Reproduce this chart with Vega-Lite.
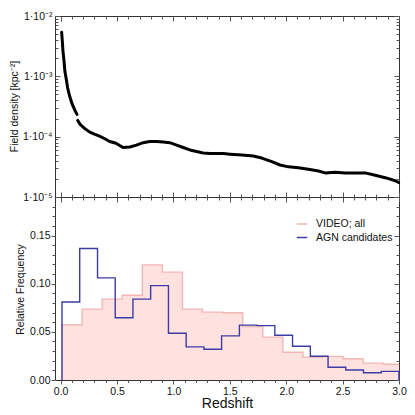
{
  "$schema": "https://vega.github.io/schema/vega-lite/v6.json",
  "width": 344,
  "height": 364,
  "autosize": {"type": "none"},
  "padding": {"left": 55, "top": 16, "right": 16, "bottom": 35},
  "background": "white",
  "resolve": {"scale": {"y": "independent"}, "axis": {"x": "independent", "y": "independent"}},
  "config": {
    "view": {"stroke": "#333", "strokeWidth": 1},
    "axis": {"grid": false, "domain": false, "labelFont": "Liberation Sans", "titleFont": "Liberation Sans", "labelFontSize": 10.5, "titleFontSize": 10.5, "titleFontWeight": "normal", "tickColor": "#555", "labelColor": "#111", "titleColor": "#111", "labelFlush": false, "labelOverlap": false, "tickWidth": 1},
    "legend": {"labelFont": "Liberation Sans"}
  },
  "datasets": {
    "dens": [
      {"z": 0.009, "d": 5.37e-3, "g": 1},
      {"z": 0.015, "d": 3.80e-3, "g": 1},
      {"z": 0.021, "d": 2.57e-3, "g": 1},
      {"z": 0.030, "d": 1.78e-3, "g": 1},
      {"z": 0.038, "d": 1.20e-3, "g": 1},
      {"z": 0.050, "d": 8.91e-4, "g": 1},
      {"z": 0.062, "d": 6.46e-4, "g": 1},
      {"z": 0.080, "d": 4.68e-4, "g": 1},
      {"z": 0.104, "d": 3.39e-4, "g": 1},
      {"z": 0.127, "d": 2.72e-4, "g": 1},
      {"z": 0.145, "d": 2.34e-4, "g": 1},
      {"z": 0.151, "d": 1.86e-4, "g": 2},
      {"z": 0.175, "d": 1.58e-4, "g": 2},
      {"z": 0.210, "d": 1.38e-4, "g": 2},
      {"z": 0.255, "d": 1.20e-4, "g": 2},
      {"z": 0.299, "d": 1.10e-4, "g": 2},
      {"z": 0.344, "d": 1.02e-4, "g": 2},
      {"z": 0.388, "d": 9.33e-5, "g": 2},
      {"z": 0.435, "d": 8.32e-5, "g": 2},
      {"z": 0.491, "d": 7.76e-5, "g": 2},
      {"z": 0.553, "d": 6.61e-5, "g": 2},
      {"z": 0.613, "d": 6.76e-5, "g": 2},
      {"z": 0.672, "d": 7.24e-5, "g": 2},
      {"z": 0.731, "d": 7.94e-5, "g": 2},
      {"z": 0.790, "d": 8.32e-5, "g": 2},
      {"z": 0.850, "d": 8.32e-5, "g": 2},
      {"z": 0.909, "d": 8.13e-5, "g": 2},
      {"z": 0.968, "d": 7.94e-5, "g": 2},
      {"z": 1.028, "d": 7.24e-5, "g": 2},
      {"z": 1.087, "d": 6.61e-5, "g": 2},
      {"z": 1.146, "d": 6.03e-5, "g": 2},
      {"z": 1.205, "d": 5.69e-5, "g": 2},
      {"z": 1.264, "d": 5.37e-5, "g": 2},
      {"z": 1.324, "d": 5.25e-5, "g": 2},
      {"z": 1.383, "d": 5.25e-5, "g": 2},
      {"z": 1.442, "d": 5.25e-5, "g": 2},
      {"z": 1.501, "d": 5.13e-5, "g": 2},
      {"z": 1.575, "d": 5.01e-5, "g": 2},
      {"z": 1.635, "d": 4.90e-5, "g": 2},
      {"z": 1.708, "d": 4.79e-5, "g": 2},
      {"z": 1.783, "d": 4.42e-5, "g": 2},
      {"z": 1.872, "d": 3.85e-5, "g": 2},
      {"z": 1.945, "d": 3.39e-5, "g": 2},
      {"z": 2.020, "d": 3.16e-5, "g": 2},
      {"z": 2.108, "d": 3.05e-5, "g": 2},
      {"z": 2.197, "d": 2.88e-5, "g": 2},
      {"z": 2.286, "d": 2.69e-5, "g": 2},
      {"z": 2.345, "d": 2.51e-5, "g": 2},
      {"z": 2.434, "d": 2.57e-5, "g": 2},
      {"z": 2.523, "d": 2.51e-5, "g": 2},
      {"z": 2.612, "d": 2.51e-5, "g": 2},
      {"z": 2.700, "d": 2.51e-5, "g": 2},
      {"z": 2.789, "d": 2.29e-5, "g": 2},
      {"z": 2.878, "d": 2.09e-5, "g": 2},
      {"z": 2.967, "d": 1.86e-5, "g": 2},
      {"z": 2.997, "d": 1.74e-5, "g": 2}
    ],
    "hist": [
      {"z": 0.012, "f": 0, "s": "VIDEO; all"},
      {"z": 0.012, "f": 0.0573, "s": "VIDEO; all"},
      {"z": 0.190, "f": 0.0736, "s": "VIDEO; all"},
      {"z": 0.368, "f": 0.084, "s": "VIDEO; all"},
      {"z": 0.546, "f": 0.088, "s": "VIDEO; all"},
      {"z": 0.724, "f": 0.1195, "s": "VIDEO; all"},
      {"z": 0.902, "f": 0.112, "s": "VIDEO; all"},
      {"z": 1.080, "f": 0.0736, "s": "VIDEO; all"},
      {"z": 1.258, "f": 0.0705, "s": "VIDEO; all"},
      {"z": 1.436, "f": 0.0698, "s": "VIDEO; all"},
      {"z": 1.614, "f": 0.0556, "s": "VIDEO; all"},
      {"z": 1.792, "f": 0.0445, "s": "VIDEO; all"},
      {"z": 1.970, "f": 0.0288, "s": "VIDEO; all"},
      {"z": 2.148, "f": 0.0238, "s": "VIDEO; all"},
      {"z": 2.326, "f": 0.0245, "s": "VIDEO; all"},
      {"z": 2.504, "f": 0.022, "s": "VIDEO; all"},
      {"z": 2.682, "f": 0.0175, "s": "VIDEO; all"},
      {"z": 2.860, "f": 0.0164, "s": "VIDEO; all"},
      {"z": 3.0, "f": 0.0164, "s": "VIDEO; all"},
      {"z": 0.012, "f": 0, "s": "AGN candidates"},
      {"z": 0.012, "f": 0.081, "s": "AGN candidates"},
      {"z": 0.169, "f": 0.1365, "s": "AGN candidates"},
      {"z": 0.327, "f": 0.106, "s": "AGN candidates"},
      {"z": 0.484, "f": 0.0646, "s": "AGN candidates"},
      {"z": 0.641, "f": 0.084, "s": "AGN candidates"},
      {"z": 0.798, "f": 0.098, "s": "AGN candidates"},
      {"z": 0.956, "f": 0.0486, "s": "AGN candidates"},
      {"z": 1.113, "f": 0.0344, "s": "AGN candidates"},
      {"z": 1.270, "f": 0.032, "s": "AGN candidates"},
      {"z": 1.427, "f": 0.0458, "s": "AGN candidates"},
      {"z": 1.585, "f": 0.057, "s": "AGN candidates"},
      {"z": 1.742, "f": 0.0565, "s": "AGN candidates"},
      {"z": 1.899, "f": 0.0465, "s": "AGN candidates"},
      {"z": 2.056, "f": 0.035, "s": "AGN candidates"},
      {"z": 2.214, "f": 0.0247, "s": "AGN candidates"},
      {"z": 2.371, "f": 0.0132, "s": "AGN candidates"},
      {"z": 2.528, "f": 0.0104, "s": "AGN candidates"},
      {"z": 2.685, "f": 0.0076, "s": "AGN candidates"},
      {"z": 2.843, "f": 0.009, "s": "AGN candidates"},
      {"z": 3.0, "f": 0.009, "s": "AGN candidates"},
      {"z": 3.0, "f": 0, "s": "AGN candidates"}
    ]
  },
  "layer": [
    {
      "data": {"name": "dens"},
      "mark": {"type": "line", "color": "black", "strokeWidth": 3, "strokeCap": "round", "strokeJoin": "round"},
      "encoding": {
        "x": {"field": "z", "type": "quantitative", "scale": {"domain": [-0.05, 3.0], "nice": false, "zero": false},
              "axis": {"orient": "bottom", "offset": -183, "values": [0, 0.5, 1, 1.5, 2, 2.5, 3], "labels": false, "tickSize": -5, "domain": true, "domainColor": "#333", "title": null}},
        "y": {"field": "d", "type": "quantitative", "scale": {"type": "log", "domain": [1e-5, 1e-2], "range": [181, 0], "nice": false},
              "axis": {"orient": "left", "values": [1e-5, 1e-4, 1e-3, 1e-2], "tickSize": -5, "labelPadding": 8,
                       "labelExpr": "'1·10' + (datum.value < 2e-5 ? '⁻⁵' : datum.value < 2e-4 ? '⁻⁴' : datum.value < 2e-3 ? '⁻³' : '⁻²')",
                       "title": "Field density [kpc⁻²]", "titleX": -41, "titleY": 90, "titleAngle": -90, "titleBaseline": "middle", "titleAlign": "center"}},
        "detail": {"field": "g"}
      }
    },
    {
      "data": {"name": "dens"},
      "mark": {"type": "line", "opacity": 0},
      "encoding": {
        "x": {"field": "z", "type": "quantitative", "scale": {"domain": [-0.05, 3.0], "nice": false, "zero": false},
              "axis": {"orient": "bottom", "offset": -183, "values": [0.1, 0.2, 0.3, 0.4, 0.6, 0.7, 0.8, 0.9, 1.1, 1.2, 1.3, 1.4, 1.6, 1.7, 1.8, 1.9, 2.1, 2.2, 2.3, 2.4, 2.6, 2.7, 2.8, 2.9], "labels": false, "tickSize": -3, "title": null}},
        "y": {"field": "d", "type": "quantitative", "scale": {"type": "log", "domain": [1e-5, 1e-2], "range": [181, 0], "nice": false},
              "axis": {"orient": "left", "values": [2e-5, 3e-5, 4e-5, 5e-5, 6e-5, 7e-5, 8e-5, 9e-5, 2e-4, 3e-4, 4e-4, 5e-4, 6e-4, 7e-4, 8e-4, 9e-4, 2e-3, 3e-3, 4e-3, 5e-3, 6e-3, 7e-3, 8e-3, 9e-3], "labels": false, "tickSize": -3, "title": null}}
      }
    },
    {
      "data": {"name": "dens"},
      "mark": {"type": "line", "opacity": 0},
      "encoding": {
        "x": {"field": "z", "type": "quantitative", "scale": {"domain": [-0.05, 3.0], "nice": false, "zero": false},
              "axis": {"orient": "top", "values": [0, 0.5, 1, 1.5, 2, 2.5, 3], "labels": false, "tickSize": -5, "title": null}},
        "y": {"field": "d", "type": "quantitative", "scale": {"type": "log", "domain": [1e-5, 1e-2], "range": [181, 0], "nice": false},
              "axis": {"orient": "right", "values": [1e-5, 1e-4, 1e-3, 1e-2], "labels": false, "tickSize": -5, "title": null}}
      }
    },
    {
      "data": {"name": "dens"},
      "mark": {"type": "line", "opacity": 0},
      "encoding": {
        "x": {"field": "z", "type": "quantitative", "scale": {"domain": [-0.05, 3.0], "nice": false, "zero": false},
              "axis": {"orient": "top", "values": [0.1, 0.2, 0.3, 0.4, 0.6, 0.7, 0.8, 0.9, 1.1, 1.2, 1.3, 1.4, 1.6, 1.7, 1.8, 1.9, 2.1, 2.2, 2.3, 2.4, 2.6, 2.7, 2.8, 2.9], "labels": false, "tickSize": -3, "title": null}},
        "y": {"field": "d", "type": "quantitative", "scale": {"type": "log", "domain": [1e-5, 1e-2], "range": [181, 0], "nice": false},
              "axis": {"orient": "right", "values": [2e-5, 3e-5, 4e-5, 5e-5, 6e-5, 7e-5, 8e-5, 9e-5, 2e-4, 3e-4, 4e-4, 5e-4, 6e-4, 7e-4, 8e-4, 9e-4, 2e-3, 3e-3, 4e-3, 5e-3, 6e-3, 7e-3, 8e-3, 9e-3], "labels": false, "tickSize": -3, "title": null}}
      }
    },
    {
      "data": {"name": "hist"},
      "transform": [{"filter": "datum.s === 'VIDEO; all'"}],
      "mark": {"type": "area", "interpolate": "step-after", "color": "#ffe1df"},
      "encoding": {
        "x": {"field": "z", "type": "quantitative", "scale": {"domain": [-0.05, 3.0], "nice": false, "zero": false},
              "axis": {"orient": "bottom", "values": [0, 0.5, 1, 1.5, 2, 2.5, 3], "format": ".1f", "tickSize": 4, "labelPadding": 2, "title": "Redshift", "titleFontSize": 14, "titlePadding": 0}},
        "y": {"field": "f", "type": "quantitative", "scale": {"domain": [0, 0.19], "range": [364, 181], "nice": false},
              "axis": {"orient": "left", "values": [0, 0.05, 0.1, 0.15], "format": ".2f", "tickSize": 4, "labelPadding": 1,
                       "title": "Relative Frequency", "titleX": -34.5, "titleY": 273, "titleAngle": -90, "titleBaseline": "middle", "titleAlign": "center"}},
        "order": {"value": null}
      }
    },
    {
      "data": {"name": "hist"},
      "mark": {"type": "line", "interpolate": "step-after", "strokeWidth": 1.4},
      "encoding": {
        "x": {"field": "z", "type": "quantitative", "scale": {"domain": [-0.05, 3.0], "nice": false, "zero": false},
              "axis": {"orient": "bottom", "values": [0.1, 0.2, 0.3, 0.4, 0.6, 0.7, 0.8, 0.9, 1.1, 1.2, 1.3, 1.4, 1.6, 1.7, 1.8, 1.9, 2.1, 2.2, 2.3, 2.4, 2.6, 2.7, 2.8, 2.9], "labels": false, "tickSize": 2.5, "title": null}},
        "y": {"field": "f", "type": "quantitative", "scale": {"domain": [0, 0.19], "range": [364, 181], "nice": false},
              "axis": {"orient": "left", "values": [0.01, 0.02, 0.03, 0.04, 0.06, 0.07, 0.08, 0.09, 0.11, 0.12, 0.13, 0.14, 0.16, 0.17, 0.18], "labels": false, "tickSize": 3, "title": null}},
        "color": {"field": "s", "type": "nominal", "scale": {"domain": ["VIDEO; all", "AGN candidates"], "range": ["#f3b7b5", "#3c3ca5"]},
                  "legend": {"orient": "none", "legendX": 241, "legendY": 202, "title": null, "symbolType": "stroke", "symbolSize": 110, "symbolStrokeWidth": 1.5, "labelFontSize": 10.5, "labelColor": "#111", "rowPadding": 1.5, "labelOffset": 8, "padding": 0}},
        "order": {"value": null}
      }
    },
    {
      "data": {"name": "hist"},
      "mark": {"type": "line", "opacity": 0},
      "encoding": {
        "x": {"field": "z", "type": "quantitative", "scale": {"domain": [-0.05, 3.0], "nice": false, "zero": false},
              "axis": {"orient": "top", "offset": -181, "values": [0, 0.5, 1, 1.5, 2, 2.5, 3], "labels": false, "tickSize": -5, "title": null}},
        "y": {"field": "f", "type": "quantitative", "scale": {"domain": [0, 0.19], "range": [364, 181], "nice": false},
              "axis": {"orient": "right", "values": [0, 0.05, 0.1, 0.15], "labels": false, "tickSize": -5, "title": null}}
      }
    },
    {
      "data": {"name": "hist"},
      "mark": {"type": "line", "opacity": 0},
      "encoding": {
        "x": {"field": "z", "type": "quantitative", "scale": {"domain": [-0.05, 3.0], "nice": false, "zero": false},
              "axis": {"orient": "top", "offset": -181, "values": [0.1, 0.2, 0.3, 0.4, 0.6, 0.7, 0.8, 0.9, 1.1, 1.2, 1.3, 1.4, 1.6, 1.7, 1.8, 1.9, 2.1, 2.2, 2.3, 2.4, 2.6, 2.7, 2.8, 2.9], "labels": false, "tickSize": -3, "title": null}},
        "y": {"field": "f", "type": "quantitative", "scale": {"domain": [0, 0.19], "range": [364, 181], "nice": false},
              "axis": {"orient": "right", "values": [0.01, 0.02, 0.03, 0.04, 0.06, 0.07, 0.08, 0.09, 0.11, 0.12, 0.13, 0.14, 0.16, 0.17, 0.18], "labels": false, "tickSize": -3, "title": null}}
      }
    }
  ]
}
